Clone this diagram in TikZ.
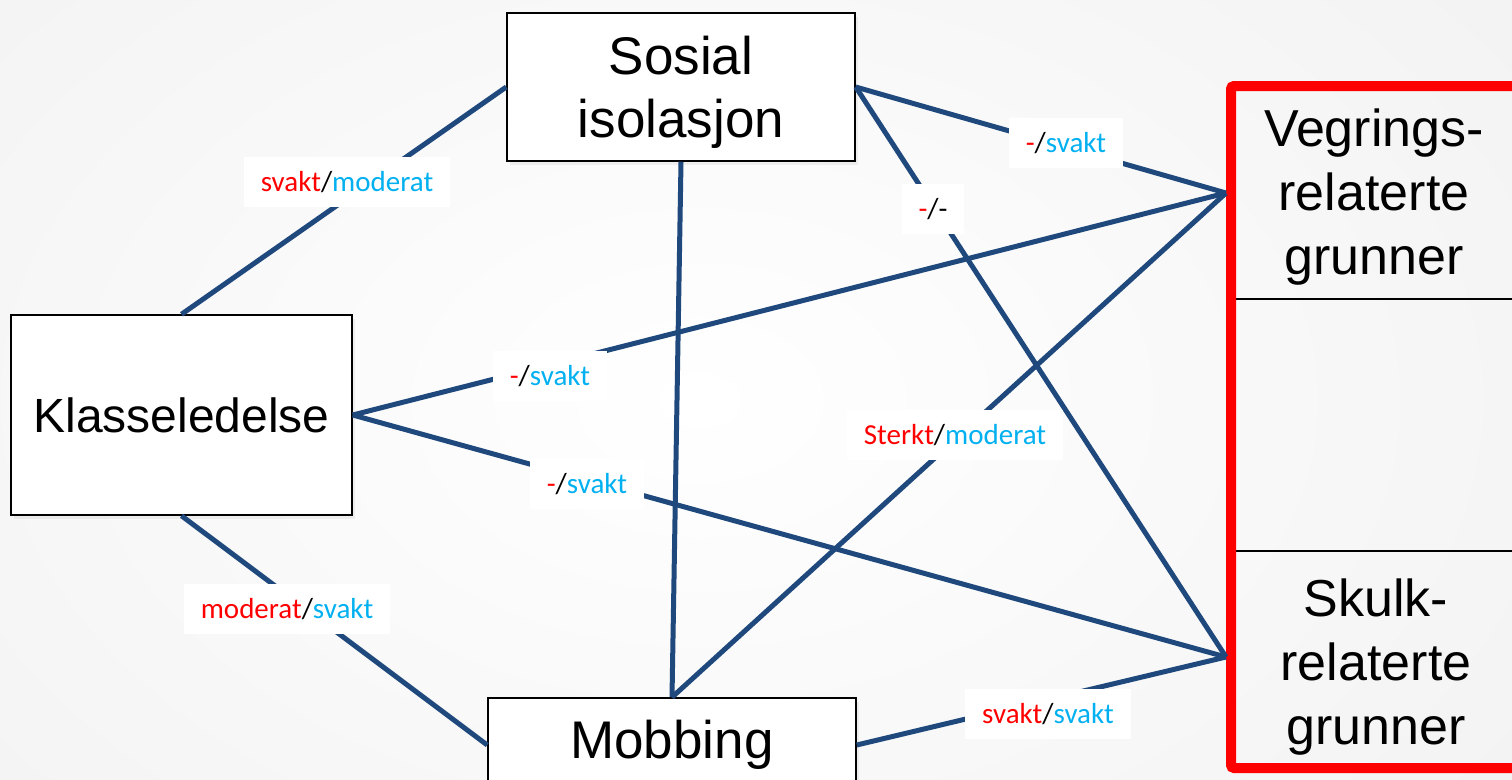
\documentclass[tikz,border=0pt]{standalone}
\usepackage{fontspec}
\setmainfont{Liberation Sans}
\newfontfamily\labfont{Carlito}
\usetikzlibrary{shadows}
\definecolor{linkblue}{RGB}{31,73,125}
\definecolor{lred}{RGB}{255,0,0}
\definecolor{lblue}{RGB}{0,176,240}
\newcommand{\lblpair}[2]{\textcolor{lred}{#1}/\textcolor{lblue}{#2}}
\tikzset{
  box/.style={draw=black, line width=1.5pt, fill=white, align=center,
    font=\fontsize{53}{63}\selectfont, inner sep=0pt,
    drop shadow={shadow xshift=3pt, shadow yshift=-4pt, opacity=0.10}},
  link/.style={draw=linkblue, line width=5pt},
  lab/.style={fill=white, font=\labfont\fontsize{29}{35}\selectfont,
    inner xsep=17pt, inner ysep=0pt, minimum height=50pt},
  big/.style={align=center, font=\fontsize{52}{64}\selectfont, inner sep=0pt}
}
\begin{document}
\begin{tikzpicture}[x=1pt,y=-1pt]
\useasboundingbox (0,0) rectangle (1512,779);
\shade[inner color=white, outer color=black!5] (-350,-300) rectangle (1750,1100);

% boxes
\node[box, minimum width=348pt, minimum height=148pt] (sos) at (681,87) {};
\node[big, font=\fontsize{53}{63}\selectfont] (sostxt) at (681,92) {Sosial\\isolasjon};
\node[box, minimum width=341pt, minimum height=200pt, font=\fontsize{48}{60}\selectfont] (kla) at (181.5,415) {Klasseledelse};
\node[box, minimum width=368pt, minimum height=94pt] (mob) at (672,745) {Mobbing};

% result box
\draw[black, line width=1.5pt] (1236,299) -- (1512,299);
\draw[black, line width=1.5pt] (1236,551) -- (1512,551);
\draw[red, line width=10pt, rounded corners=3pt] (1231,86) rectangle (1545,768);
\coordinate (vegp) at (1226,193);
\coordinate (skup) at (1226,657);
\node[big] (veg) at (1374,197) {Vegrings-\\relaterte\\grunner};
\node[big] (sku) at (1376,667) {Skulk-\\relaterte\\grunner};

% connectors
\draw[link] (kla.north) -- (sos.west);
\draw[link] (sos.south) -- (mob.north);
\draw[link] (sos.east) -- (vegp);
\draw[link] (sos.east) -- (skup);
\draw[link] (kla.east) -- (vegp);
\draw[link] (kla.east) -- (skup);
\draw[link] (kla.south) -- (mob.west);
\draw[link] (mob.north) -- (vegp);
\draw[link] (mob.east) -- (skup);

% labels
\node[lab] (l1) at (347,182) {\lblpair{svakt}{moderat}};
\node[lab] (l2) at (1066,143) {\lblpair{-}{svakt}};
\node[lab] (l3) at (933,209) {\textcolor{lred}{-}/-};
\node[lab] (l4) at (550,376) {\lblpair{-}{svakt}};
\node[lab] (l5) at (587,484) {\lblpair{-}{svakt}};
\node[lab] (l6) at (287,609) {\lblpair{moderat}{svakt}};
\node[lab] (l7) at (955,435) {\lblpair{Sterkt}{moderat}};
\node[lab] (l8) at (1048,714) {\lblpair{svakt}{svakt}};
\end{tikzpicture}
\end{document}
